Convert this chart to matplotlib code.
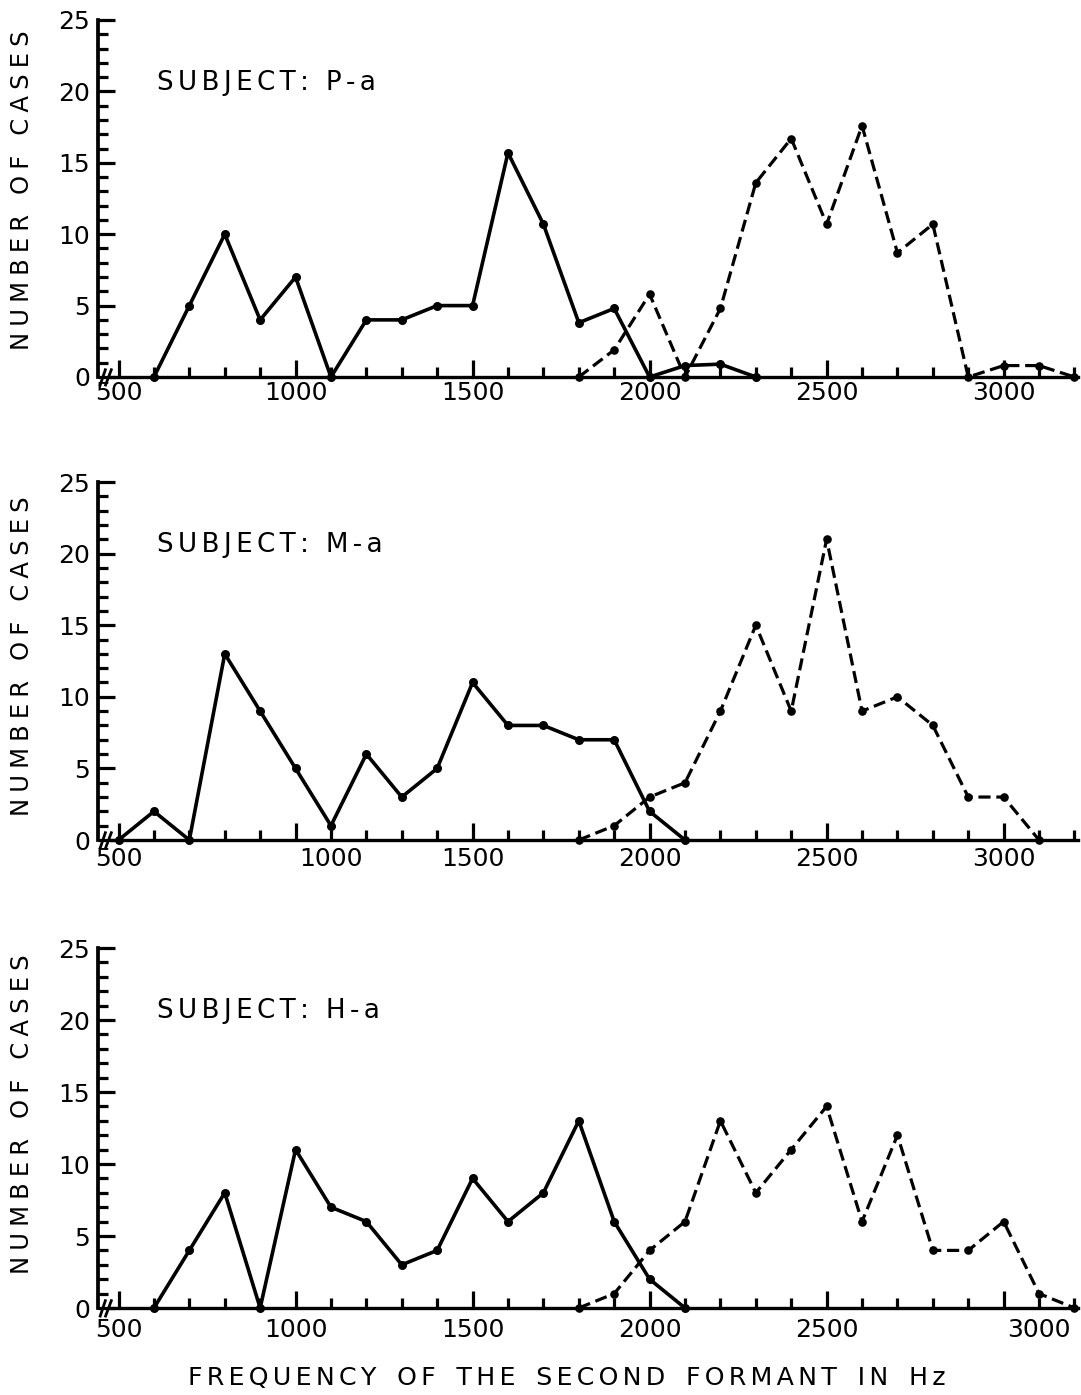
import matplotlib
matplotlib.use('Agg')
import matplotlib.pyplot as plt
from matplotlib.ticker import MultipleLocator, FixedLocator
from matplotlib.transforms import ScaledTranslation

plt.rcParams['font.family'] = ['DejaVu Sans']

# ---------------- data ----------------
# Subject P-a
p_solid_freq = [600, 700, 800, 900, 1000, 1100, 1200, 1300, 1400, 1500,
                1600, 1700, 1800, 1900, 2000, 2100, 2200, 2300]
p_solid_cases = [0, 5, 10, 4, 7, 0, 4, 4, 5, 5,
                 15.7, 10.7, 3.8, 4.8, 0, 0.8, 0.9, 0]
p_dash_freq = [1800, 1900, 2000, 2100, 2200, 2300, 2400, 2500,
               2600, 2700, 2800, 2900, 3000, 3100, 3200]
p_dash_cases = [0, 1.9, 5.8, 0, 4.8, 13.6, 16.7, 10.7,
                17.6, 8.7, 10.7, 0, 0.8, 0.8, 0]

# Subject M-a
m_solid_freq = [500, 600, 700, 800, 900, 1000, 1100, 1200, 1300, 1400,
                1500, 1600, 1700, 1800, 1900, 2000, 2100]
m_solid_cases = [0, 2, 0, 13, 9, 5, 1, 6, 3, 5,
                 11, 8, 8, 7, 7, 2, 0]
m_dash_freq = [1800, 1900, 2000, 2100, 2200, 2300, 2400, 2500,
               2600, 2700, 2800, 2900, 3000, 3100]
m_dash_cases = [0, 1, 3, 4, 9, 15, 9, 21,
                9, 10, 8, 3, 3, 0]

# Subject H-a
h_solid_freq = [600, 700, 800, 900, 1000, 1100, 1200, 1300, 1400, 1500,
                1600, 1700, 1800, 1900, 2000, 2100]
h_solid_cases = [0, 4, 8, 0, 11, 7, 6, 3, 4, 9,
                 6, 8, 13, 6, 2, 0]
h_dash_freq = [1800, 1900, 2000, 2100, 2200, 2300, 2400, 2500,
               2600, 2700, 2800, 2900, 3000, 3100, 3200]
h_dash_cases = [0, 1, 4, 6, 13, 8, 11, 14,
                6, 12, 4, 4, 6, 1, 0]

subjects = ['SUBJECT: P-a', 'SUBJECT: M-a', 'SUBJECT: H-a']
x_tick_values = [500, 1000, 1500, 2000, 2500, 3000]
x_tick_labels = ['500', '1000', '1500', '2000', '2500', '3000']
y_label = 'NUMBER OF CASES'
x_label = 'FREQUENCY OF THE SECOND FORMANT IN Hz'

panels = [
    (p_solid_freq, p_solid_cases, p_dash_freq, p_dash_cases),
    (m_solid_freq, m_solid_cases, m_dash_freq, m_dash_cases),
    (h_solid_freq, h_solid_cases, h_dash_freq, h_dash_cases),
]

# ---------------- layout ----------------
W, H = 1081, 1395
fig = plt.figure(figsize=(W / 100, H / 100), dpi=100)

panel_px = [(20, 377), (482, 840), (948, 1308)]   # (top, bottom) of y-axis in pixels
ylabel_center = [190, 656, 1114]
xtick_pad = [3.0, 5.0, 7.5]
shifted_label = [None, '1000', '3000']             # hand-lettered labels offset in the original


def spaced(s, sep, word_sep=None):
    words = s.split(' ')
    joined = [sep.join(w) for w in words]
    return (word_sep if word_sep is not None else sep + ' ' + sep).join(joined)


for i, (sf, sc, df, dc) in enumerate(panels):
    top, bot = panel_px[i]
    ax = fig.add_axes([98 / W, 1 - bot / H, 980 / W, (bot - top) / H])
    ax.set_xlim(442, 3210)
    ax.set_ylim(0, 25)
    ax.patch.set_alpha(0)

    ax.plot(sf, sc, color='black', lw=2.6, marker='o', ms=6.5, mew=0,
            clip_on=False, zorder=3)
    ax.plot(df, dc, color='black', lw=2.3, ls=(0, (3.8, 1.8)), marker='o',
            ms=6.2, mew=0, clip_on=False, zorder=3)

    for s in ('top', 'right'):
        ax.spines[s].set_visible(False)
    ax.spines['left'].set_linewidth(2.7)
    ax.spines['bottom'].set_linewidth(2.4)
    ax.spines['bottom'].set_bounds(478, 3210)

    # axis-break marks
    for x0, x1 in ((447, 464), (462, 481)):
        ax.plot([x0, x1], [-0.65, 0.6], color='black', lw=2.0,
                clip_on=False, solid_capstyle='butt')

    ax.xaxis.set_major_locator(FixedLocator(x_tick_values))
    ax.set_xticklabels(x_tick_labels)
    ax.xaxis.set_minor_locator(MultipleLocator(100))
    ax.yaxis.set_major_locator(MultipleLocator(5))
    ax.yaxis.set_minor_locator(MultipleLocator(1))

    ax.tick_params(axis='both', which='both', direction='in', width=2.3,
                   color='black', labelsize=18)
    ax.tick_params(axis='x', which='major', length=12, pad=xtick_pad[i])
    ax.tick_params(axis='x', which='minor', length=7)
    ax.tick_params(axis='y', which='major', length=12, pad=5.6)
    ax.tick_params(axis='y', which='minor', length=7)

    if shifted_label[i] is not None:
        for tk in ax.xaxis.get_major_ticks():
            if tk.label1.get_text() == shifted_label[i]:
                tk.label1.set_transform(tk.label1.get_transform() +
                                        ScaledTranslation(0.35, 0, fig.dpi_scale_trans))

    ax.text(0.0602, 1 - 70 / (bot - top), spaced(subjects[i], '\u2006', '\u2006 \u2006'),
            transform=ax.transAxes, fontsize=18.8, va='baseline', ha='left')

    fig.text(22.5 / W, 1 - ylabel_center[i] / H,
             spaced(y_label, '\u2005', '\u2005 \u2005'),
             rotation=90, ha='center', va='center', fontsize=17.5)

fig.text(566.5 / W, 1 - 1385 / H, spaced(x_label, '\u2006', '\u2005 \u2005'),
         ha='center', va='baseline', fontsize=18.2)

fig.savefig('out.png', dpi=100, facecolor='white')
